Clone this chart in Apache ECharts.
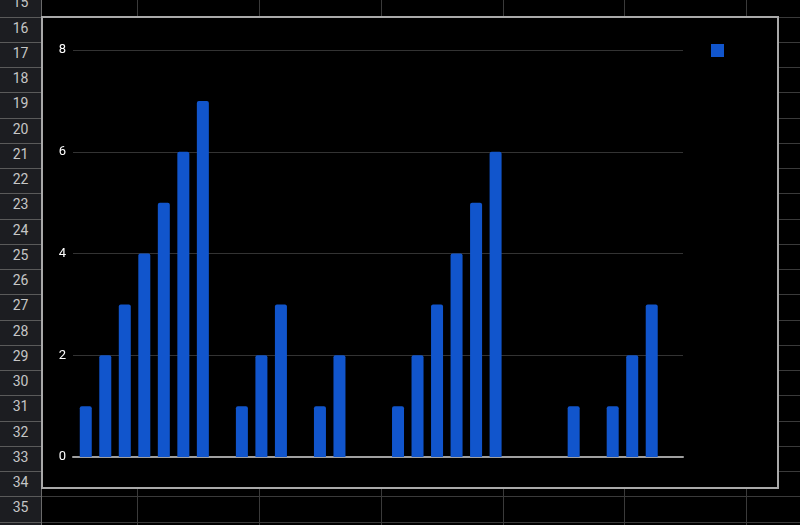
<!DOCTYPE html>
<html>
<head>
<meta charset="utf-8">
<script src="https://cdn.jsdelivr.net/npm/echarts@6/dist/echarts.min.js"></script>
<style>
  html, body { margin: 0; padding: 0; background: #000; width: 800px; height: 525px; overflow: hidden; }
  #sheet { position: absolute; left: 0; top: 0; width: 800px; height: 525px; }
  .hdr { position: absolute; left: 0; top: 0; width: 41px; height: 525px; background: #1c1d21; border-right: 1px solid #6a6a6a; }
  .rl { position: absolute; left: 0; width: 41px; height: 1px; background: #5a5a5a; }
  .cl { position: absolute; left: 42px; width: 758px; height: 1px; background: #3a3a3a; }
  .vl { position: absolute; top: 0; width: 1px; height: 525px; background: #3a3a3a; }
  .num { position: absolute; left: 0; width: 41px; text-align: center; font-family: Roboto, "Noto Sans", sans-serif; font-size: 14px; color: #c6c6c6; }
  #box { position: absolute; left: 41px; top: 16px; width: 734px; height: 469px; background: #000; border: 2px solid #a9a9a9; }
  #chart { position: absolute; left: 0; top: 0; width: 800px; height: 525px; }
</style>
</head>
<body>
<div id="sheet"></div>
<div id="box"></div>
<div id="chart"></div>
<script>
// ---- data ----
const rowNumbers = [15,16,17,18,19,20,21,22,23,24,25,26,27,28,29,30,31,32,33,34,35];
const categories = ['1','2','3','4','5','6','7','8','9','10','11','12','13','14','15','16','17','18','19','20','21','22','23','24','25','26','27','28','29','30','31'];
const values = [1,2,3,4,5,6,7,0,1,2,3,0,1,2,0,0,1,2,3,4,5,6,0,0,0,1,0,1,2,3,0];
const yTicks = [0,2,4,6,8];
const seriesName = ' ';

// ---- spreadsheet background ----
const sheet = document.getElementById('sheet');
let html = '<div class="hdr"></div>';
const rowH = 25.25, firstTop = 16.5 - 25.25;
rowNumbers.forEach((n, k) => {
  const top = firstTop + k * rowH;
  html += '<div class="num" style="top:' + (top - 1) + 'px;height:' + rowH + 'px;line-height:' + rowH + 'px">' + n + '</div>';
  const lineY = Math.round(top + rowH);
  html += '<div class="rl" style="top:' + lineY + 'px"></div>';
  html += '<div class="cl" style="top:' + lineY + 'px"></div>';
});
[137, 259, 381, 503, 624, 746].forEach(x => {
  html += '<div class="vl" style="left:' + x + 'px"></div>';
});
sheet.innerHTML = html;

// ---- chart ----
const chart = echarts.init(document.getElementById('chart'), null, { renderer: 'canvas' });
chart.setOption({
  backgroundColor: 'transparent',
  animation: false,
  legend: {
    data: [seriesName],
    left: 711, top: 44, padding: 0,
    itemWidth: 13, itemHeight: 13,
    icon: 'rect',
    textStyle: { color: '#fff', fontSize: 12 }
  },
  grid: [
    { left: 73, right: 117, top: 50, bottom: 68 },
    { left: 76, right: 119, top: 50, bottom: 68 }
  ],
  xAxis: [
    {
      gridIndex: 0, type: 'value', min: 0, max: 1,
      axisLine: { show: true, lineStyle: { color: '#a0a0a0', width: 2 } },
      axisTick: { show: false }, axisLabel: { show: false }, splitLine: { show: false }
    },
    {
      gridIndex: 1, type: 'category', data: categories,
      axisLine: { show: false }, axisTick: { show: false }, axisLabel: { show: false }
    }
  ],
  yAxis: [
    {
      gridIndex: 0, type: 'value', min: yTicks[0], max: yTicks[yTicks.length - 1], interval: 2,
      axisLine: { show: false }, axisTick: { show: false },
      axisLabel: { color: '#ffffff', fontSize: 13, fontFamily: 'Roboto', margin: 7 },
      splitLine: { lineStyle: { color: '#333333', width: 1 } }
    },
    {
      gridIndex: 1, type: 'value', min: yTicks[0], max: yTicks[yTicks.length - 1], interval: 2,
      show: false
    }
  ],
  series: [
    {
      name: seriesName, type: 'bar', xAxisIndex: 1, yAxisIndex: 1,
      data: values, barWidth: 12,
      itemStyle: { color: '#1155cc', borderRadius: [2, 2, 0, 0] }
    }
  ]
});
</script>
</body>
</html>
